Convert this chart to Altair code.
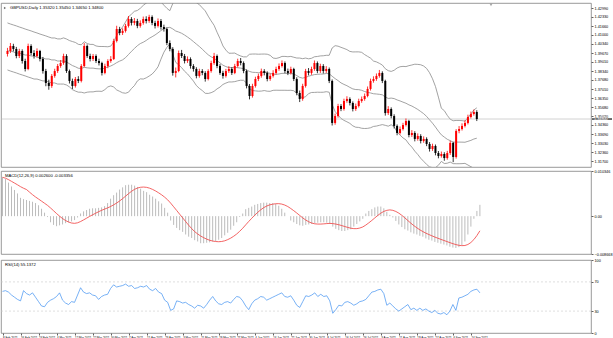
import json
import altair as alt
import pandas as pd

# ---------------- data ----------------
opens = [
1.3960,1.3982,1.4019,1.3997,1.3945,1.3982,1.3908,1.3849,1.4019,1.3967,
1.3945,1.3982,1.3923,1.3834,1.3746,1.3724,1.3798,1.3834,1.3871,1.3893,
1.3945,1.3834,1.3761,1.3724,1.3775,1.3761,1.3871,1.4019,1.3945,1.3923,
1.3945,1.3908,1.3893,1.3820,1.3871,1.3908,1.3923,1.4056,1.4144,1.4115,
1.4130,1.4167,1.4218,1.4189,1.4203,1.4167,1.4189,1.4218,1.4203,1.4233,
1.4189,1.4167,1.4203,1.4159,1.4144,1.4041,1.3997,1.3820,1.3834,1.3967,
1.3945,1.3908,1.3923,1.3871,1.3849,1.3798,1.3834,1.3820,1.3775,1.3834,
1.3893,1.3945,1.3871,1.3820,1.3798,1.3834,1.3849,1.3820,1.3871,1.3908,
1.3893,1.3834,1.3724,1.3650,1.3724,1.3775,1.3798,1.3834,1.3820,1.3775,
1.3798,1.3820,1.3849,1.3871,1.3893,1.3834,1.3820,1.3849,1.3775,1.3672,
1.3628,1.3724,1.3834,1.3820,1.3849,1.3893,1.3834,1.3871,1.3834,1.3849,
1.3761,1.3451,1.3502,1.3576,1.3554,1.3613,1.3628,1.3598,1.3554,1.3576,
1.3613,1.3628,1.3650,1.3702,1.3761,1.3775,1.3798,1.3820,1.3761,1.3524,
1.3554,1.3502,1.3429,1.3377,1.3406,1.3436,1.3465,1.3362,1.3377,1.3333,
1.3355,1.3318,1.3333,1.3296,1.3259,1.3281,1.3229,1.3207,1.3222,1.3192,
1.3229,1.3303,1.3200,1.3392,1.3406,1.3429,1.3451,1.3495,1.3517,1.3532,
]
highs = [
1.4005,1.4041,1.4035,1.4012,1.3998,1.3994,1.3925,1.4036,1.4032,1.3988,
1.4001,1.3990,1.3938,1.3850,1.3770,1.3812,1.3851,1.3886,1.3915,1.3962,
1.3958,1.3845,1.3778,1.3790,1.3796,1.3885,1.4040,1.4030,1.3962,1.3960,
1.3957,1.3925,1.3903,1.3888,1.3921,1.3944,1.4072,1.4168,1.4160,1.4149,
1.4182,1.4240,1.4232,1.4225,1.4219,1.4208,1.4236,1.4238,1.4249,1.4245,
1.4205,1.4222,1.4218,1.4176,1.4155,1.4060,1.4010,1.3860,1.3985,1.3990,
1.3960,1.3942,1.3935,1.3885,1.3862,1.3851,1.3848,1.3833,1.3847,1.3910,
1.3968,1.3956,1.3885,1.3836,1.3850,1.3870,1.3862,1.3887,1.3925,1.3930,
1.3905,1.3845,1.3738,1.3740,1.3792,1.3815,1.3852,1.3848,1.3832,1.3815,
1.3840,1.3866,1.3890,1.3912,1.3905,1.3852,1.3866,1.3858,1.3788,1.3690,
1.3740,1.3850,1.3856,1.3866,1.3912,1.3905,1.3888,1.3885,1.3870,1.3860,
1.3772,1.3520,1.3592,1.3590,1.3630,1.3648,1.3640,1.3610,1.3594,1.3630,
1.3646,1.3668,1.3720,1.3778,1.3795,1.3816,1.3842,1.3832,1.3770,1.3575,
1.3566,1.3515,1.3440,1.3425,1.3452,1.3484,1.3474,1.3398,1.3390,1.3374,
1.3368,1.3352,1.3345,1.3310,1.3298,1.3292,1.3244,1.3240,1.3235,1.3245,
1.3320,1.3312,1.3405,1.3428,1.3448,1.3470,1.3512,1.3535,1.3550,1.3545,
]
lows = [
1.3941,1.3968,1.3979,1.3928,1.3930,1.3889,1.3831,1.3840,1.3950,1.3926,
1.3933,1.3905,1.3815,1.3722,1.3696,1.3710,1.3785,1.3820,1.3858,1.3880,
1.3820,1.3742,1.3701,1.3712,1.3745,1.3750,1.3862,1.3931,1.3905,1.3908,
1.3893,1.3875,1.3801,1.3810,1.3855,1.3895,1.3915,1.4045,1.4098,1.4100,
1.4118,1.4155,1.4170,1.4172,1.4150,1.4154,1.4176,1.4185,1.4190,1.4172,
1.4148,1.4155,1.4140,1.4125,1.4025,1.3980,1.3800,1.3787,1.3825,1.3930,
1.3890,1.3894,1.3852,1.3830,1.3780,1.3785,1.3803,1.3756,1.3765,1.3822,
1.3880,1.3855,1.3806,1.3778,1.3786,1.3820,1.3805,1.3811,1.3860,1.3876,
1.3818,1.3706,1.3625,1.3638,1.3712,1.3760,1.3785,1.3802,1.3758,1.3762,
1.3786,1.3808,1.3836,1.3860,1.3818,1.3804,1.3808,1.3760,1.3655,1.3605,
1.3615,1.3712,1.3802,1.3806,1.3836,1.3818,1.3820,1.3816,1.3820,1.3745,
1.3432,1.3438,1.3490,1.3538,1.3542,1.3600,1.3580,1.3536,1.3540,1.3565,
1.3600,1.3615,1.3640,1.3690,1.3748,1.3762,1.3785,1.3745,1.3505,1.3510,
1.3485,1.3410,1.3360,1.3365,1.3395,1.3425,1.3345,1.3348,1.3315,1.3320,
1.3300,1.3305,1.3280,1.3240,1.3245,1.3212,1.3190,1.3195,1.3172,1.3180,
1.3215,1.3162,1.3188,1.3375,1.3395,1.3418,1.3440,1.3484,1.3505,1.3465,
]
closes = [
1.3982,1.4019,1.3997,1.3945,1.3982,1.3908,1.3849,1.4019,1.3967,1.3945,
1.3982,1.3923,1.3834,1.3746,1.3724,1.3798,1.3834,1.3871,1.3893,1.3945,
1.3834,1.3761,1.3724,1.3775,1.3761,1.3871,1.4019,1.3945,1.3923,1.3945,
1.3908,1.3893,1.3820,1.3871,1.3908,1.3923,1.4056,1.4144,1.4115,1.4130,
1.4167,1.4218,1.4189,1.4203,1.4167,1.4189,1.4218,1.4203,1.4233,1.4189,
1.4167,1.4203,1.4159,1.4144,1.4041,1.3997,1.3820,1.3834,1.3967,1.3945,
1.3908,1.3923,1.3871,1.3849,1.3798,1.3834,1.3820,1.3775,1.3834,1.3893,
1.3945,1.3871,1.3820,1.3798,1.3834,1.3849,1.3820,1.3871,1.3908,1.3893,
1.3834,1.3724,1.3650,1.3724,1.3775,1.3798,1.3834,1.3820,1.3775,1.3798,
1.3820,1.3849,1.3871,1.3893,1.3834,1.3820,1.3849,1.3775,1.3672,1.3628,
1.3724,1.3834,1.3820,1.3849,1.3893,1.3834,1.3871,1.3834,1.3849,1.3761,
1.3451,1.3502,1.3576,1.3554,1.3613,1.3628,1.3598,1.3554,1.3576,1.3613,
1.3628,1.3650,1.3702,1.3761,1.3775,1.3798,1.3820,1.3761,1.3524,1.3554,
1.3502,1.3429,1.3377,1.3406,1.3436,1.3465,1.3362,1.3377,1.3333,1.3355,
1.3318,1.3333,1.3296,1.3259,1.3281,1.3229,1.3207,1.3222,1.3192,1.3229,
1.3303,1.3200,1.3392,1.3406,1.3429,1.3451,1.3495,1.3517,1.3532,1.3480,
]
# Bollinger band values for the first bars (their history lies left of the chart)
bb_upper_head = [1.4189,1.4181,1.4174,1.4167,1.4159,1.4152,1.4144,1.4137,1.4130,1.4122,
                 1.4115,1.4107,1.4100,1.4093,1.4085,1.4078,1.4078,1.4071,1.4071]
bb_mid_head = [1.3982,1.3982,1.3975,1.3967,1.3967,1.3960,1.3952,1.3952,1.3945,1.3945,
               1.3938,1.3930,1.3930,1.3923,1.3923,1.3916,1.3916,1.3908,1.3908]
bb_lower_head = [1.3842,1.3834,1.3827,1.3820,1.3812,1.3805,1.3798,1.3790,1.3783,1.3775,
                 1.3775,1.3768,1.3761,1.3761,1.3753,1.3746,1.3746,1.3738,1.3738]
macd_main = [
0.0089,0.0085,0.0077,0.0068,0.0060,0.0052,0.0042,0.0039,0.0037,0.0035,
0.0033,0.0030,0.0025,0.0017,0.0008,-0.0002,-0.0014,-0.0020,-0.0023,-0.0021,
-0.0019,-0.0016,-0.0014,-0.0012,-0.0009,-0.0003,0.0006,0.0011,0.0014,0.0017,
0.0018,0.0018,0.0019,0.0020,0.0023,0.0030,0.0040,0.0048,0.0054,0.0061,
0.0066,0.0071,0.0072,0.0072,0.0070,0.0067,0.0063,0.0058,0.0055,0.0049,
0.0045,0.0040,0.0034,0.0029,0.0019,0.0008,-0.0010,-0.0020,-0.0027,-0.0032,
-0.0036,-0.0042,-0.0047,-0.0050,-0.0055,-0.0058,-0.0062,-0.0062,-0.0061,-0.0060,
-0.0058,-0.0057,-0.0054,-0.0050,-0.0044,-0.0038,-0.0031,-0.0022,-0.0014,-0.0002,
0.0006,0.0016,0.0019,0.0022,0.0026,0.0028,0.0030,0.0031,0.0031,0.0030,
0.0030,0.0028,0.0024,0.0017,0.0008,0.0000,-0.0010,-0.0014,-0.0018,-0.0021,
-0.0022,-0.0020,-0.0019,-0.0018,-0.0016,-0.0015,-0.0014,-0.0014,-0.0015,-0.0018,
-0.0024,-0.0029,-0.0032,-0.0034,-0.0034,-0.0032,-0.0030,-0.0024,-0.0018,-0.0012,
-0.0006,0.0006,0.0012,0.0016,0.0020,0.0022,0.0022,0.0018,0.0010,0.0003,
-0.0003,-0.0011,-0.0019,-0.0025,-0.0030,-0.0033,-0.0037,-0.0040,-0.0042,-0.0045,
-0.0047,-0.0051,-0.0054,-0.0056,-0.0059,-0.0061,-0.0063,-0.0065,-0.0067,-0.0070,
-0.0072,-0.0073,-0.0071,-0.0066,-0.0058,-0.0042,-0.0024,-0.0006,0.0012,0.0026,
]
rsi_values = [
57,58,56,52,49,46,44,58,54,52,
55,49,43,37,36,42,45,47,50,55,
45,41,39,43,42,52,62,56,54,55,
52,51,46,50,52,53,61,66,63,64,
65,67,64,65,61,62,64,63,65,60,
58,61,56,54,45,42,31,33,44,43,
41,42,39,37,34,38,37,34,39,45,
50,44,40,39,42,43,41,46,50,49,
44,37,32,40,45,47,50,49,45,47,
49,51,53,55,50,49,51,45,38,35,
43,51,50,52,55,50,53,50,51,44,
27,32,38,37,42,43,41,38,40,43,
44,46,51,56,57,59,60,54,38,41,
37,33,30,33,36,39,32,34,31,34,
31,33,30,28,31,27,26,28,25,30,
39,31,48,49,51,53,57,59,60,55,
]
date_labels = ["8 Feb 2021","16 Feb 2021","24 Feb 2021","4 Mar 2021","12 Mar 2021",
               "22 Mar 2021","30 Mar 2021","7 Apr 2021","15 Apr 2021","23 Apr 2021",
               "3 May 2021","11 May 2021","19 May 2021","27 May 2021","4 Jun 2021",
               "14 Jun 2021","22 Jun 2021","30 Jun 2021","8 Jul 2021","16 Jul 2021",
               "26 Jul 2021","3 Aug 2021","11 Aug 2021","19 Aug 2021","27 Aug 2021",
               "6 Sep 2021","14 Sep 2021"]
price_ticks = [1.42990,1.42330,1.41660,1.41000,1.40340,1.39670,1.39010,1.38340,1.37680,
               1.37010,1.36350,1.35680,1.35020,1.34360,1.33690,1.33030,1.32360,1.31700]
macd_ticks = [-0.008668, 0.0, 0.010346]
rsi_ticks = [0, 30, 70, 100]
rsi_levels = [30, 70]
main_caption = "GBPUSD,Daily  1.35320 1.35450 1.34650 1.34800"
macd_caption = "MACD(12,26,9) 0.002600 -0.003356"
rsi_caption = "RSI(14) 55.1372"

# ---------------- chart ----------------
N = len(closes)
H = len(bb_upper_head)
df = pd.DataFrame({
    "i": list(range(N)), "open": opens, "high": highs, "low": lows, "close": closes,
    "macd": macd_main, "rsi": rsi_values,
    "bbu_h": bb_upper_head + [None] * (N - H),
    "bbm_h": bb_mid_head + [None] * (N - H),
    "bbl_h": bb_lower_head + [None] * (N - H),
})

W = 590
FONT = "Liberation Sans"
X_DOM = [-0.5, 196]
xs = alt.Scale(domain=X_DOM, nice=False, zero=False)
xenc = alt.X("i:Q", scale=xs, axis=None)

ax_common = dict(orient="right", grid=False, domain=False, tickSize=2, tickColor="#606060",
                 labelFontSize=3.8, labelPadding=1, labelColor="#000000", title=None,
                 labelOverlap=False, labelFlush=False, labelFont=FONT)

# --- price panel
yp = alt.Scale(domain=[1.3126, 1.4336], nice=False, zero=False)
price_axis = alt.Axis(values=price_ticks, format=".5f", **ax_common)
base = alt.Chart(df).transform_calculate(col="datum.close >= datum.open ? 'up' : 'down'")
col_enc = alt.Color("col:N", scale=alt.Scale(domain=["up", "down"], range=["#ff0000", "#000000"]), legend=None)
wick = base.mark_rule(strokeWidth=0.8).encode(
    x=xenc, y=alt.Y("low:Q", scale=yp, axis=price_axis), y2="high:Q", color=col_enc)
body = base.mark_bar(size=2).encode(x=xenc, y=alt.Y("open:Q", scale=yp, axis=price_axis), y2="close:Q", color=col_enc)

bb = (alt.Chart(df)
      .transform_window(sma="mean(close)", sd="stdevp(close)", frame=[-19, 0], sort=[alt.SortField("i")])
      .transform_calculate(
          up="isValid(datum.bbu_h) ? datum.bbu_h : datum.sma + 2*datum.sd",
          mid="isValid(datum.bbm_h) ? datum.bbm_h : datum.sma",
          lo="isValid(datum.bbl_h) ? datum.bbl_h : datum.sma - 2*datum.sd")
      .transform_fold(["up", "mid", "lo"], as_=["band", "val"])
      .mark_line(color="#8a8a8a", strokeWidth=0.8, clip=True)
      .encode(x=xenc, y=alt.Y("val:Q", scale=yp, axis=price_axis), detail="band:N"))

last = alt.Chart(df).transform_filter(f"datum.i == {N - 1}")
pline = last.mark_rule(color="#b4b4b4", strokeWidth=0.6).encode(y=alt.Y("close:Q", scale=yp, axis=price_axis))
tag = (last.transform_calculate(t1="datum.close - 0.00042", t2="datum.close + 0.00042")
       .mark_rect(color="#000000")
       .encode(x=alt.value(W + 1), x2=alt.value(W + 21), y=alt.Y("t1:Q", scale=yp, axis=price_axis), y2="t2:Q"))
tagtxt = last.mark_text(color="#ffffff", fontSize=3.8, align="left", baseline="middle", font=FONT).encode(
    x=alt.value(W + 3), y=alt.Y("close:Q", scale=yp, axis=price_axis), text=alt.Text("close:Q", format=".5f"))

cap_df = pd.DataFrame({"t": [main_caption]})
cap_main = alt.Chart(cap_df).mark_text(align="left", baseline="middle", fontSize=4.2, color="#000000", font=FONT).encode(
    x=alt.value(9), y=alt.value(5), text="t:N")
icon = alt.Chart(cap_df).mark_point(shape="triangle-right", filled=True, size=6, color="#303030").encode(
    x=alt.value(4), y=alt.value(5))
shift = alt.Chart(cap_df).mark_point(shape="triangle-down", filled=True, size=8, color="#808080").encode(
    x=alt.value(490), y=alt.value(2))

main = alt.layer(bb, pline, wick, body, tag, tagtxt, cap_main, icon, shift).properties(width=W, height=164)

# --- MACD panel
ym = alt.Scale(domain=[macd_ticks[0], macd_ticks[-1]], nice=False, zero=False)
macd_axis = alt.Axis(values=macd_ticks, labelExpr="datum.value == 0 ? '0.00' : format(datum.value, '.6f')", **ax_common)
hist = alt.Chart(df).mark_rule(color="#bcbcbc", strokeWidth=1).encode(
    x=xenc, y=alt.Y("macd:Q", scale=ym, axis=macd_axis), y2=alt.datum(0))
sig = (alt.Chart(df).transform_window(sig="mean(macd)", frame=[-8, 0], sort=[alt.SortField("i")])
       .mark_line(color="#f03c3c", strokeWidth=0.8)
       .encode(x=xenc, y=alt.Y("sig:Q", scale=ym, axis=macd_axis)))
cap_macd = alt.Chart(pd.DataFrame({"t": [macd_caption]})).mark_text(
    align="left", baseline="middle", fontSize=4.2, color="#000000", font=FONT).encode(
    x=alt.value(4), y=alt.value(5), text="t:N")
macd = alt.layer(hist, sig, cap_macd).properties(width=W, height=83)

# --- RSI panel
yr = alt.Scale(domain=[0, 100], nice=False)
rsi_axis = alt.Axis(values=rsi_ticks, **ax_common)
xaxis = alt.Axis(values=list(range(0, N, 6)),
                 labelExpr=json.dumps(date_labels) + "[round(datum.value / 6)]",
                 labelAlign="left", labelFontSize=2.9, labelPadding=1, tickSize=2, tickColor="#606060",
                 domain=False, grid=False, title=None, labelOverlap=False, labelFlush=False,
                 labelColor="#000000", labelFont=FONT)
lv = alt.Chart(pd.DataFrame({"lv": rsi_levels})).mark_rule(color="#c8c8c8", strokeDash=[2, 2], strokeWidth=0.6).encode(
    y=alt.Y("lv:Q", scale=yr, axis=rsi_axis))
rline = alt.Chart(df).mark_line(color="#3d8ff0", strokeWidth=0.7).encode(
    x=alt.X("i:Q", scale=xs, axis=xaxis),
    y=alt.Y("rsi:Q", scale=yr, axis=rsi_axis))
cap_rsi = alt.Chart(pd.DataFrame({"t": [rsi_caption]})).mark_text(
    align="left", baseline="middle", fontSize=4.2, color="#000000", font=FONT).encode(
    x=alt.value(4), y=alt.value(5), text="t:N")
rsi = alt.layer(lv, rline, cap_rsi).properties(width=W, height=73)

chart = (alt.vconcat(main, macd, rsi, spacing=0)
         .properties(padding={"left": 0, "top": 2, "right": 0, "bottom": 0}, background="#ffffff")
         .configure_view(stroke="#808080", strokeWidth=0.8)
         .configure_axis(labelFont=FONT, labelOverlap=False, labelFlush=False))

chart.save("out.html", embed_options={"renderer": "svg", "actions": False})
